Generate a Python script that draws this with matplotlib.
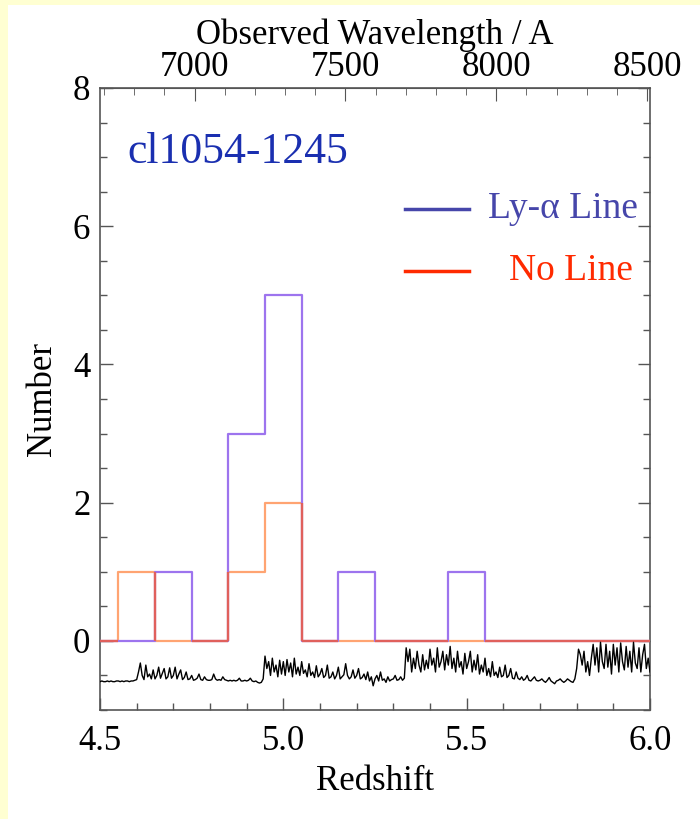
import numpy as np
import matplotlib.pyplot as plt
from matplotlib.patches import Rectangle
from matplotlib.ticker import MultipleLocator

# ---------------------------------
# 1. Data
# ---------------------------------
bin_left = [4.45, 4.55, 4.65, 4.75, 4.85, 4.95, 5.05, 5.15,
            5.25, 5.35, 5.45, 5.55, 5.65, 5.75, 5.85, 5.95]
bin_width = 0.1
lya_counts = [0, 0, 1, 0, 3, 5, 0, 1, 0, 0, 1, 0, 0, 0, 0, 0]
noline_counts = [0, 1, 0, 0, 1, 2, 0, 0, 0, 0, 0, 0, 0, 0, 0, 0]

# sky spectrum (arbitrary units, offset below zero), sampled every 0.005 in z from 4.5 to 6.0
sky = [
    -0.59, -0.58, -0.59, -0.59, -0.58, -0.59, -0.58, -0.59, -0.59, -0.58,
    -0.58, -0.59, -0.58, -0.59, -0.58, -0.58, -0.59, -0.58, -0.58, -0.57,
    -0.56, -0.45, -0.32, -0.50, -0.56, -0.35, -0.52, -0.48, -0.55, -0.42,
    -0.55, -0.50, -0.38, -0.54, -0.47, -0.40, -0.55, -0.52, -0.39, -0.54,
    -0.50, -0.38, -0.55, -0.48, -0.42, -0.56, -0.53, -0.45, -0.56, -0.55,
    -0.50, -0.57, -0.56, -0.54, -0.48, -0.56, -0.57, -0.52, -0.56, -0.57,
    -0.57, -0.56, -0.48, -0.55, -0.57, -0.56, -0.57, -0.52, -0.56, -0.57,
    -0.58, -0.57, -0.58, -0.57, -0.58, -0.57, -0.54, -0.58, -0.58, -0.57,
    -0.58, -0.57, -0.54, -0.58, -0.59, -0.58, -0.60, -0.61, -0.60, -0.55,
    -0.22, -0.40, -0.30, -0.50, -0.25, -0.45, -0.35, -0.52, -0.28, -0.48,
    -0.30, -0.50, -0.27, -0.45, -0.32, -0.52, -0.25, -0.48, -0.38, -0.50,
    -0.30, -0.47, -0.42, -0.52, -0.33, -0.50, -0.45, -0.53, -0.36, -0.52,
    -0.48, -0.40, -0.53, -0.50, -0.35, -0.54, -0.52, -0.45, -0.55, -0.50,
    -0.38, -0.55, -0.52, -0.49, -0.33, -0.50, -0.55, -0.52, -0.42, -0.54,
    -0.50, -0.40, -0.55, -0.53, -0.48, -0.56, -0.45, -0.58, -0.52, -0.65,
    -0.55, -0.50, -0.58, -0.45, -0.57, -0.55, -0.60, -0.52, -0.58, -0.56,
    -0.55, -0.50, -0.57, -0.56, -0.52, -0.57, -0.54, -0.10, -0.30, -0.12,
    -0.45, -0.25, -0.40, -0.15, -0.35, -0.45, -0.20, -0.42, -0.28, -0.40,
    -0.12, -0.35, -0.25, -0.45, -0.10, -0.38, -0.30, -0.15, -0.42, -0.20,
    -0.35, -0.08, -0.40, -0.25, -0.45, -0.15, -0.38, -0.30, -0.48, -0.18,
    -0.40, -0.30, -0.15, -0.45, -0.28, -0.42, -0.20, -0.48, -0.35, -0.45,
    -0.25, -0.50, -0.40, -0.52, -0.30, -0.50, -0.45, -0.53, -0.38, -0.52,
    -0.50, -0.35, -0.53, -0.50, -0.40, -0.54, -0.55, -0.45, -0.54, -0.56,
    -0.52, -0.57, -0.55, -0.50, -0.57, -0.58, -0.55, -0.52, -0.57, -0.58,
    -0.57, -0.55, -0.58, -0.60, -0.57, -0.53, -0.58, -0.60, -0.62, -0.58,
    -0.57, -0.55, -0.58, -0.60, -0.58, -0.55, -0.57, -0.59, -0.60, -0.55,
    -0.40, -0.12, -0.20, -0.35, -0.15, -0.45, -0.30, -0.50, -0.25, -0.05,
    -0.35, -0.10, -0.45, -0.02, -0.30, -0.40, -0.05, -0.38, -0.15, -0.48,
    -0.05, -0.35, -0.10, -0.45, -0.03, -0.30, -0.42, -0.08, -0.38, -0.15,
    -0.45, -0.02, -0.32, -0.40, -0.10, -0.45, -0.20, -0.05, -0.40, -0.25,
    -0.45,
]
z_sky = np.linspace(4.5, 6.0, len(sky))

LYA_REST = 1215.67

plt.rcParams['font.family'] = ['Liberation Serif', 'DejaVu Serif']

purple = '#9d74ee'
orange = '#ffa472'
red = '#e0605c'
spine = '#555555'


def step_path(counts):
    # outline of a histogram: x and y vertices
    xs, ys = [], []
    for left, c in zip(bin_left, counts):
        xs += [left, left + bin_width]
        ys += [c, c]
    return xs, ys


def overlap_segments(a, b):
    # pieces where the two outlines coincide (drawn in red)
    segs = []
    for left, ca, cb in zip(bin_left, a, b):
        if ca == cb:
            segs.append(([left, left + bin_width], [ca, ca]))
    for i in range(1, len(bin_left)):
        x = bin_left[i]
        lo_a, hi_a = sorted([a[i - 1], a[i]])
        lo_b, hi_b = sorted([b[i - 1], b[i]])
        lo, hi = max(lo_a, lo_b), min(hi_a, hi_b)
        if hi > lo:
            segs.append(([x, x], [lo, hi]))
    return segs


# ---------------------------------
# 2. Figure
# ---------------------------------
fig = plt.figure(figsize=(7, 8.19), dpi=100)
fig.patch.set_facecolor('#ffffd2')
fig.patches.append(Rectangle((8 / 700, 0), 1, 1 - 5 / 819, transform=fig.transFigure,
                             facecolor='white', edgecolor='none', zorder=-10))

ax = fig.add_axes([100 / 700, 1 - 710 / 819, 550 / 700, 622 / 819])

xs, ys = step_path(noline_counts)
ax.plot(xs, ys, color=orange, lw=1.6, zorder=3)
xs, ys = step_path(lya_counts)
ax.plot(xs, ys, color=purple, lw=1.6, zorder=4)
for sx, sy in overlap_segments(lya_counts, noline_counts):
    ax.plot(sx, sy, color=red, lw=1.6, zorder=5, solid_capstyle='butt')

ax.plot(z_sky, sky, color='black', lw=1.0, zorder=6)

ax.set_xlim(4.5, 6.0)
ax.set_ylim(-1, 8)
ax.set_xticks([4.5, 5.0, 5.5, 6.0])
ax.set_xticklabels(['4.5', '5.0', '5.5', '6.0'])
ax.set_yticks([0, 2, 4, 6, 8])
ax.xaxis.set_minor_locator(MultipleLocator(0.1))
ax.yaxis.set_minor_locator(MultipleLocator(0.5))
ax.tick_params(which='both', direction='in', color=spine, right=True, top=False,
               labelsize=25)
ax.tick_params(axis='x', pad=11)
ax.tick_params(axis='y', pad=7)
ax.tick_params(which='major', length=9, width=1)
ax.tick_params(which='minor', length=5, width=1)
for s in ax.spines.values():
    s.set_color(spine)
    s.set_linewidth(1.2)

ax.set_xlabel('Redshift', fontsize=25, labelpad=5)
ax.set_ylabel('Number', fontsize=25, labelpad=10)

top = ax.secondary_xaxis('top', functions=(lambda z: LYA_REST * (1 + z),
                                           lambda w: w / LYA_REST - 1))
top.set_xticks([7000, 7500, 8000, 8500])
top.xaxis.set_minor_locator(MultipleLocator(100))
top.tick_params(which='both', direction='in', color=spine, labelsize=25, pad=3)
top.tick_params(which='major', length=9)
top.tick_params(which='minor', length=5)
top.spines['top'].set_color(spine)
top.set_xlabel('Observed Wavelength / A', fontsize=25, labelpad=5)

# ---------------------------------
# 3. Annotations
# ---------------------------------
ax.text(0.05, 0.88, 'cl1054-1245', transform=ax.transAxes, fontsize=31.5,
        color='#1a2fb0', ha='left', va='baseline')
ax.plot([0.555, 0.67], [0.806, 0.806], transform=ax.transAxes, color='#4646aa', lw=2.5)
ax.text(0.978, 0.806, 'Ly-α Line', transform=ax.transAxes, fontsize=27,
        color='#4646aa', ha='right', va='center')
ax.plot([0.555, 0.67], [0.706, 0.706], transform=ax.transAxes, color='#ff2a00', lw=2.5)
ax.text(0.968, 0.706, 'No Line', transform=ax.transAxes, fontsize=27,
        color='#ff2a00', ha='right', va='center')

plt.savefig('out.png', dpi=100, facecolor=fig.get_facecolor())
